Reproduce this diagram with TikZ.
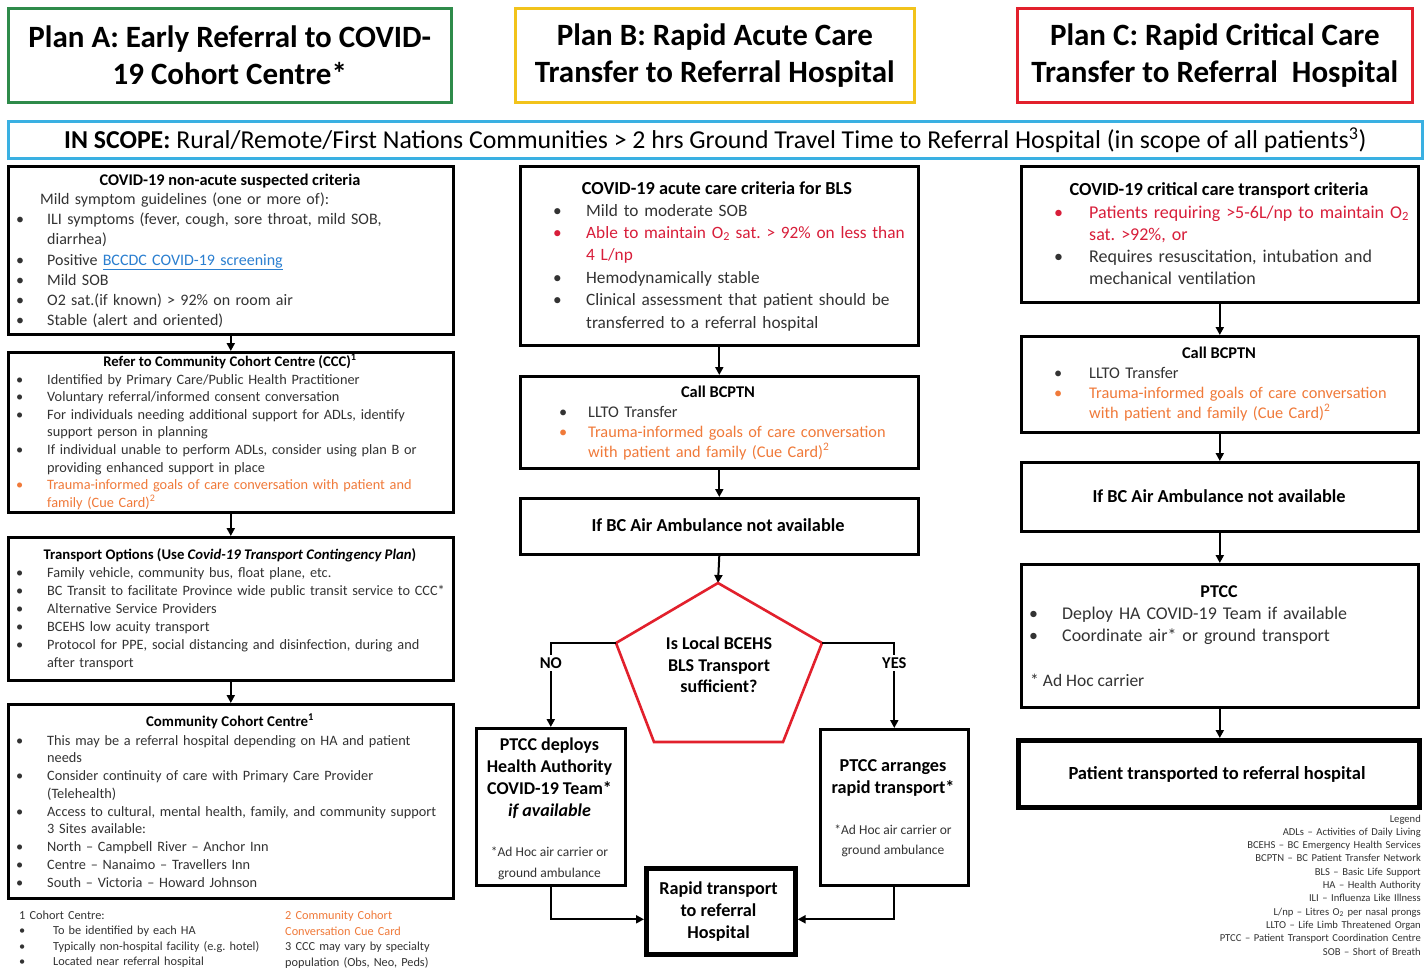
\documentclass[tikz,border=0pt]{standalone}
\usepackage{fontspec}
\setmainfont{Carlito}
\usetikzlibrary{arrows.meta,calc}
\frenchspacing

\definecolor{planA}{HTML}{2E8B4A}
\definecolor{planB}{HTML}{F2C31B}
\definecolor{planC}{HTML}{E2202C}
\definecolor{scope}{HTML}{3AB0E2}
\definecolor{txt}{HTML}{333333}
\definecolor{alert}{HTML}{D81E3A}
\definecolor{cue}{HTML}{F07A3A}
\definecolor{link}{HTML}{2B7FD0}

% hanging indent of bulleted lines
\newlength\hng
\newcommand\nl{\hfil\break}
\newcommand\itm[2][txt]{\hangindent=\hng\hangafter=1\noindent\makebox[\hng][l]{\color{#1}\textbullet}{\color{#1}#2}\par}
% empty framed panel given by its corners
\newcommand\panel[6][frame]{\node[#1, minimum width={(#5-#3)*1pt}, minimum height={(#6-#4)*1pt}] (#2) at (#3,#4) {};}

\tikzset{
  frame/.style={draw=black, line width=2.6pt, inner sep=0pt, anchor=north west},
  heavy/.style={frame, line width=4.6pt},
  flow/.style={line width=2pt, -{Triangle[length=8pt,width=8pt]}},
  lbl/.style={inner sep=0pt, anchor=base},
  body/.style={inner sep=0pt, anchor=base west, align=left, text=txt},
  list/.style={body, execute at begin node={\setlength{\hng}{#1}}},
}

\begin{document}
\begin{tikzpicture}[x=1pt,y=-1pt]
\useasboundingbox (0,0) rectangle (1424,970);
\clip (0,0) rectangle (1424,970);
\fill[white] (0,0) rectangle (1424,970);

% ---- plan headers ----
\node[frame, draw=planA, minimum width=443pt, minimum height=94pt, align=center,
  font=\fontsize{31}{37}\selectfont\bfseries] (planA) at (7,7) {Plan A: Early Referral to COVID-\\19 Cohort Centre*};
\node[frame, draw=planB, minimum width=399pt, minimum height=94pt, align=center,
  font=\fontsize{31}{37}\selectfont\bfseries] (planB) at (514,7) {Plan B: Rapid Acute Care\\Transfer to Referral Hospital};
\node[frame, draw=planC, minimum width=395pt, minimum height=94pt, align=center,
  font=\fontsize{31}{37}\selectfont\bfseries] (planC) at (1016,7) {Plan C: Rapid Critical Care\\Transfer to Referral\ \ Hospital};

\node[frame, draw=scope, minimum width=1414pt, minimum height=37pt,
  font=\fontsize{25.8}{28}\selectfont] (scope) at (7,120)
  {\textbf{IN SCOPE:} Rural/Remote/First Nations Communities > 2 hrs Ground Travel Time to Referral Hospital (in scope of all patients\textsuperscript{3})};

% ---- Plan A column ----
\panel{a1}{7}{165}{452}{333}
\panel{a2}{7}{351}{452}{511}
\panel{a3}{7}{536}{452}{679}
\panel{a4}{7}{703}{452}{897}

\node[lbl, font=\fontsize{16.3}{18}\selectfont\bfseries] (a1h) at (230,185.5) {COVID-19 non-acute suspected criteria};
\node[list=31pt, font=\fontsize{16}{20.2}\selectfont, text width=480pt] (a1t) at (16,204.5) {%
\noindent\hspace*{24pt}Mild symptom guidelines (one or more of):\par
\itm{ILI symptoms (fever, cough, sore throat, mild SOB,\nl diarrhea)}
\itm{Positive {\color{link}\underline{BCCDC COVID-19 screening}}}
\itm{Mild SOB}
\itm{O2 sat.(if known) > 92\% on room air}
\itm{Stable (alert and oriented)}};

\node[lbl, font=\fontsize{14.7}{16}\selectfont\bfseries] (a2h) at (230,366) {Refer to Community Cohort Centre (CCC)\textsuperscript{1}};
\node[list=31pt, font=\fontsize{14.3}{17.6}\selectfont, text width=480pt] (a2t) at (16,384) {%
\itm{Identified by Primary Care/Public Health Practitioner}
\itm{Voluntary referral/informed consent conversation}
\itm{For individuals needing additional support for ADLs, identify\nl support person in planning}
\itm{If individual unable to perform ADLs, consider using plan B or\nl providing enhanced support in place}
\itm[cue]{Trauma-informed goals of care conversation with patient and\nl family (Cue Card)\textsuperscript{2}}};

\node[lbl, font=\fontsize{14.7}{16}\selectfont\bfseries] (a3h) at (230,559) {Transport Options (Use \textit{Covid-19 Transport Contingency Plan})};
\node[list=31pt, font=\fontsize{14.3}{18}\selectfont, text width=480pt] (a3t) at (16,577) {%
\itm{Family vehicle, community bus, float plane, etc.}
\itm{BC Transit to facilitate Province wide public transit service to CCC*}
\itm{Alternative Service Providers}
\itm{BCEHS low acuity transport}
\itm{Protocol for PPE, social distancing and disinfection, during and\nl after transport}};

\node[lbl, font=\fontsize{14.9}{16}\selectfont\bfseries] (a4h) at (230,726) {Community Cohort Centre\textsuperscript{1}};
\node[list=31pt, font=\fontsize{14.3}{17.75}\selectfont, text width=480pt] (a4t) at (16,745) {%
\itm{This may be a referral hospital depending on HA and patient\nl needs}
\itm{Consider continuity of care with Primary Care Provider\nl (Telehealth)}
\itm{Access to cultural, mental health, family, and community support\nl 3 Sites available:}
\itm{North – Campbell River – Anchor Inn}
\itm{Centre – Nanaimo – Travellers Inn}
\itm{South – Victoria – Howard Johnson}};

\draw[flow] (a1.south) -- (a1.south |- a2.north);
\draw[flow] (a2.south) -- (a2.south |- a3.north);
\draw[flow] (a3.south) -- (a3.south |- a4.north);

% footnotes
\node[list=34pt, font=\fontsize{12.3}{15.5}\selectfont, text width=262pt] (fn1) at (19,919) {%
\noindent 1 Cohort Centre:\par
\itm{To be identified by each HA}
\itm{Typically non-hospital facility (e.g. hotel)}
\itm{Located near referral hospital}};
\node[body, font=\fontsize{12.3}{15.5}\selectfont, text width=150pt] (fn2) at (285,919.5) {%
{\color{cue}2 Community Cohort\\Conversation Cue Card}\\3 CCC may vary by specialty\\population (Obs, Neo, Peds)};

% ---- Plan B column ----
\panel{b1}{519}{165}{917}{344}
\panel{b2}{519}{375}{917}{467}
\panel{b3}{519}{497}{917}{553}

\node[lbl, font=\fontsize{18.3}{20}\selectfont\bfseries] (b1h) at (717,194) {COVID-19 acute care criteria for BLS};
\node[list=33pt, font=\fontsize{17.3}{22.4}\selectfont, text width=440pt] (b1t) at (553,216) {%
\itm{Mild to moderate SOB}
\itm[alert]{Able to maintain O\textsubscript{2} sat. > 92\% on less than\nl 4 L/np}
\itm{Hemodynamically stable}
\itm{Clinical assessment that patient should be\nl transferred to a referral hospital}};

\node[lbl, font=\fontsize{16.4}{18}\selectfont\bfseries] (b2h) at (718,397) {Call BCPTN};
\node[list=29pt, font=\fontsize{16.3}{20}\selectfont, text width=440pt] (b2t) at (559,417) {%
\itm{LLTO Transfer}
\itm[cue]{Trauma-informed goals of care conversation\nl with patient and family (Cue Card)\textsuperscript{2}}};

\node[lbl, font=\fontsize{18.3}{20}\selectfont\bfseries] (b3t) at (718,531) {If BC Air Ambulance not available};

\draw[flow] (b1.south) -- (b1.south |- b2.north);
\draw[flow] (b2.south) -- (b2.south |- b3.north);

% decision pentagon
\coordinate (pt) at (718,583);
\coordinate (pr) at (822,643);
\coordinate (pbr) at (783,742);
\coordinate (pbl) at (654,742);
\coordinate (pl) at (616,643);
\draw[flow] (b3.south) -- (pt);
\draw[draw=planC, line width=2.6pt, line join=miter] (pt) -- (pr) -- (pbr) -- (pbl) -- (pl) -- cycle;
\node[align=center, inner sep=0pt, font=\fontsize{18}{21.5}\selectfont\bfseries] (q) at (719,665) {Is Local BCEHS\\BLS Transport\\sufficient?};

\panel{nbox}{475}{727}{624}{884}
\panel{ybox}{819}{728}{967}{884}
\panel[heavy]{rbox}{644}{866}{793}{952}

\draw[flow] (pl) -| (nbox.north);
\draw[flow] (pr) -| (ybox.north);
\node[fill=white, inner sep=3pt, font=\fontsize{16.5}{18}\selectfont\bfseries] (no) at (nbox.north |- 0,663) {NO};
\node[fill=white, inner sep=3pt, font=\fontsize{16.5}{18}\selectfont\bfseries] (yes) at (ybox.north |- 0,663) {YES};

\node[align=center, inner sep=0pt, font=\fontsize{18}{22}\selectfont\bfseries] (nt1) at (549.5,778) {PTCC deploys\\Health Authority\\COVID-19 Team*\\\textit{if available}};
\node[align=center, inner sep=0pt, font=\fontsize{13.5}{21}\selectfont, text=txt] (nt2) at (549.5,863) {*Ad Hoc air carrier or\\ground ambulance};
\node[align=center, inner sep=0pt, font=\fontsize{18.2}{22}\selectfont\bfseries] (yt1) at (893,778) {PTCC arranges\\rapid transport*};
\node[align=center, inner sep=0pt, font=\fontsize{13.5}{20}\selectfont, text=txt] (yt2) at (893,841) {*Ad Hoc air carrier or\\ground ambulance};
\node[align=center, inner sep=0pt, font=\fontsize{18.2}{22}\selectfont\bfseries] (rt) at (718.5,912) {Rapid transport\\to referral\\Hospital};

\draw[flow] (nbox.south) |- ([yshift=-8pt]rbox.west);
\draw[flow] (ybox.south) |- ([yshift=-8pt]rbox.east);

% ---- Plan C column ----
\panel{c1}{1020}{165}{1417}{301}
\panel{c2}{1020}{335}{1417}{431}
\panel{c3}{1020}{461}{1417}{530}
\panel{c4}{1020}{563}{1417}{706}
\panel[heavy]{c5}{1016}{738}{1417}{805}

\node[lbl, font=\fontsize{18.4}{20}\selectfont\bfseries] (c1h) at (1219,195) {COVID-19 critical care transport criteria};
\node[list=35pt, font=\fontsize{18}{22}\selectfont, text width=440pt] (c1t) at (1054,218) {%
\itm[alert]{Patients requiring >5-6L/np to maintain O\textsubscript{2}\nl sat. >92\%, or}
\itm{Requires resuscitation, intubation and\nl mechanical ventilation}};

\node[lbl, font=\fontsize{16.4}{18}\selectfont\bfseries] (c2h) at (1219,358) {Call BCPTN};
\node[list=35pt, font=\fontsize{16.3}{20}\selectfont, text width=440pt] (c2t) at (1054,378) {%
\itm{LLTO Transfer}
\itm[cue]{Trauma-informed goals of care conversation\nl with patient and family (Cue Card)\textsuperscript{2}}};

\node[lbl, font=\fontsize{18.3}{20}\selectfont\bfseries] (c3t) at (1219,502) {If BC Air Ambulance not available};

\node[lbl, font=\fontsize{18}{20}\selectfont\bfseries] (c4h) at (1219,597) {PTCC};
\node[list=33pt, font=\fontsize{17.9}{22}\selectfont, text width=440pt] (c4t) at (1029,619) {%
\itm{Deploy HA COVID-19 Team if available}
\itm{Coordinate air* or ground transport}};
\node[body, font=\fontsize{17.5}{20}\selectfont] (c4n) at (1030,686) {* Ad Hoc carrier};

\node[lbl, font=\fontsize{18.5}{20}\selectfont\bfseries] (c5t) at (1217,779) {Patient transported to referral hospital};

\draw[flow] (c1.south) -- (c1.south |- c2.north);
\draw[flow] (c2.south) -- (c2.south |- c3.north);
\draw[flow] (c3.south) -- (c3.south |- c4.north);
\draw[flow] (c4.south) -- (c4.south |- c5.north);

% legend of abbreviations
\node[inner sep=0pt, anchor=base east, align=right, text width=260pt, text=txt,
  font=\fontsize{10.6}{13.3}\selectfont] (legend) at (1421,822) {%
Legend\\
ADLs – Activities of Daily Living\\
BCEHS – BC Emergency Health Services\\
BCPTN – BC Patient Transfer Network\\
BLS – Basic Life Support\\
HA – Health Authority\\
ILI – Influenza Like Illness\\
L/np – Litres O\textsubscript{2} per nasal prongs\\
LLTO – Life Limb Threatened Organ\\
PTCC – Patient Transport Coordination Centre\\
SOB – Short of Breath};
\end{tikzpicture}
\end{document}
